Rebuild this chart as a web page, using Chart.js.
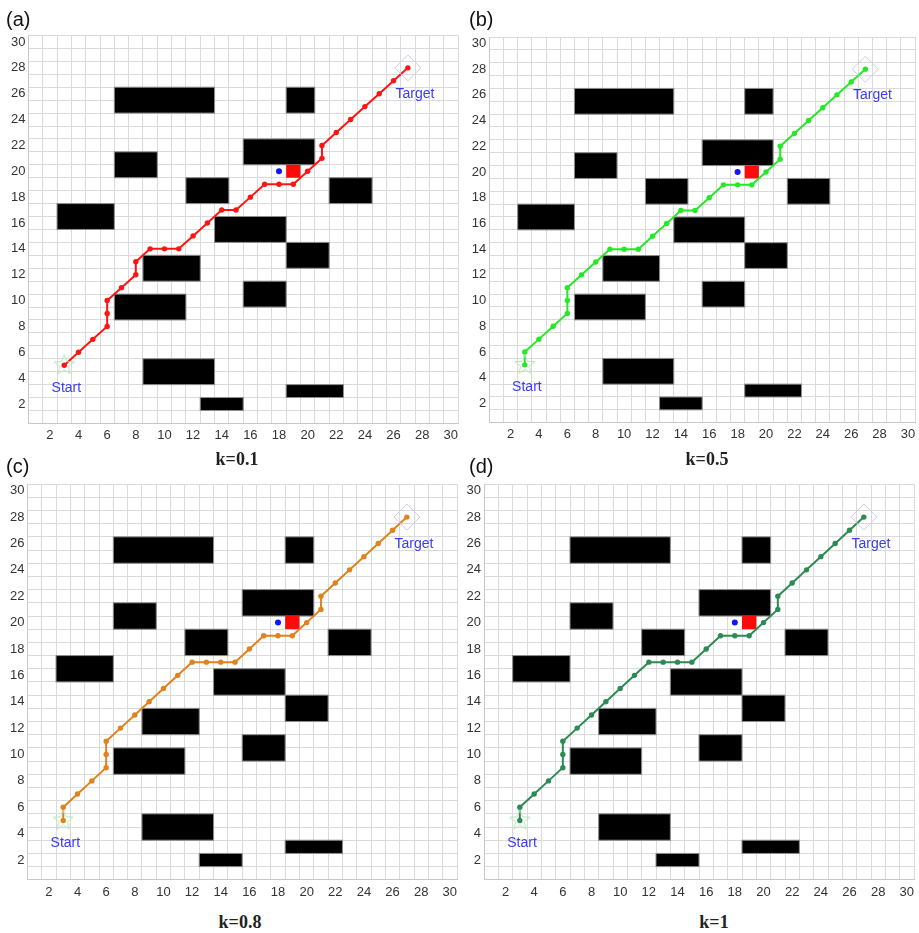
<!DOCTYPE html>
<html>
<head>
<meta charset="utf-8">
<script src="https://cdn.jsdelivr.net/npm/chart.js@4.4.1/dist/chart.umd.min.js"></script>
<style>
  html, body { margin: 0; padding: 0; background: #fff; }
  body { width: 919px; height: 933px; position: relative; overflow: hidden;
         font-family: "Liberation Sans", Arial, sans-serif; }
  canvas { position: absolute; }
  .tag { position: absolute; font-size: 20px; line-height: 22px; color: #111; }
  .cap { position: absolute; font-family: "Liberation Serif", "Times New Roman", serif;
         font-weight: bold; font-size: 18px; line-height: 20px; color: #222;
         transform: translateX(-50%); white-space: nowrap; }
</style>
</head>
<body>
<canvas id="pa" width="462" height="446" style="left:0;top:0"></canvas>
<canvas id="pb" width="459" height="446" style="left:460px;top:0"></canvas>
<canvas id="pc" width="462" height="440" style="left:0;top:462px"></canvas>
<canvas id="pd" width="459" height="440" style="left:460px;top:462px"></canvas>

<div class="tag" style="left:6px;top:8px">(a)</div>
<div class="tag" style="left:469px;top:8px">(b)</div>
<div class="tag" style="left:6px;top:455px">(c)</div>
<div class="tag" style="left:469px;top:455px">(d)</div>

<div class="cap" style="left:237px;top:449px">k=0.1</div>
<div class="cap" style="left:707px;top:449px">k=0.5</div>
<div class="cap" style="left:240px;top:912px">k=0.8</div>
<div class="cap" style="left:714px;top:912px">k=1</div>

<script>
// Grid map: 30 x 30 cells, cell centres at integer coordinates.
const gridMin = 0.5;
const gridMax = 30.5;
const tickLabels = [2, 4, 6, 8, 10, 12, 14, 16, 18, 20, 22, 24, 26, 28, 30];

// Obstacles as inclusive cell ranges: [xFrom, xTo, yFrom, yTo]
const obstacles = [
  [7, 13, 25, 26],
  [19, 20, 25, 26],
  [16, 20, 21, 22],
  [7, 9, 20, 21],
  [12, 14, 18, 19],
  [22, 24, 18, 19],
  [3, 6, 16, 17],
  [14, 18, 15, 16],
  [19, 21, 13, 14],
  [9, 12, 12, 13],
  [16, 18, 10, 11],
  [7, 11, 9, 10],
  [9, 13, 4, 5],
  [19, 22, 3, 3],
  [13, 15, 2, 2]
];

// Dynamic obstacle cell and the blue probe point
const dynamicCell = [19, 20];
const probePoint = [18, 20];

const startCell = [3, 5];
const targetCell = [27, 28];

// Planned paths for each weighting factor k
const pathA_x = [3, 4, 5, 6, 6, 6, 7, 8, 8, 9, 10, 11, 12, 13, 14, 15, 16, 17, 18, 19, 20, 21, 21, 22, 23, 24, 25, 26, 27];
const pathA_y = [5, 6, 7, 8, 9, 10, 11, 12, 13, 14, 14, 14, 15, 16, 17, 17, 18, 19, 19, 19, 20, 21, 22, 23, 24, 25, 26, 27, 28];

const pathB_x = [3, 3, 4, 5, 6, 6, 6, 7, 8, 9, 10, 11, 12, 13, 14, 15, 16, 17, 18, 19, 20, 21, 21, 22, 23, 24, 25, 26, 27];
const pathB_y = [5, 6, 7, 8, 9, 10, 11, 12, 13, 14, 14, 14, 15, 16, 17, 17, 18, 19, 19, 19, 20, 21, 22, 23, 24, 25, 26, 27, 28];

const pathC_x = [3, 3, 4, 5, 6, 6, 6, 7, 8, 9, 10, 11, 12, 13, 14, 15, 16, 17, 18, 19, 20, 21, 21, 22, 23, 24, 25, 26, 27];
const pathC_y = [5, 6, 7, 8, 9, 10, 11, 12, 13, 14, 15, 16, 17, 17, 17, 17, 18, 19, 19, 19, 20, 21, 22, 23, 24, 25, 26, 27, 28];

const pathD_x = [3, 3, 4, 5, 6, 6, 6, 7, 8, 9, 10, 11, 12, 13, 14, 15, 16, 17, 18, 19, 20, 21, 21, 22, 23, 24, 25, 26, 27];
const pathD_y = [5, 6, 7, 8, 9, 10, 11, 12, 13, 14, 15, 16, 17, 17, 17, 17, 18, 19, 19, 19, 20, 21, 22, 23, 24, 25, 26, 27, 28];

// Text anchors (data units) for the start / target captions
const markerText = [
  { text: 'Start', x: 3.15, y: 3.25 },
  { text: 'Target', x: 27.5, y: 25.95 }
];

const toPoints = (xs, ys) => xs.map((v, i) => ({ x: v, y: ys[i] }));

// Outlined five-point star used as the start marker
function makeStar() {
  const c = document.createElement('canvas');
  c.width = 24; c.height = 24;
  const g = c.getContext('2d');
  g.beginPath();
  for (let i = 0; i < 10; i++) {
    const r = i % 2 === 0 ? 10.5 : 4.5;
    const a = -Math.PI / 2 + i * Math.PI / 5;
    const px = 12 + r * Math.cos(a), py = 12 + r * Math.sin(a);
    if (i === 0) g.moveTo(px, py); else g.lineTo(px, py);
  }
  g.closePath();
  g.strokeStyle = '#b5e3b5';
  g.lineWidth = 1;
  g.stroke();
  return c;
}
const starImg = makeStar();

const halfSteps = [];
for (let v = gridMin; v <= gridMax + 1e-9; v += 0.5) halfSteps.push(v);

const mapPlugin = {
  id: 'mapCells',
  beforeDatasetsDraw(chart) {
    const { ctx, scales: { x, y } } = chart;
    ctx.save();
    obstacles.forEach(([x1, x2, y1, y2]) => {
      const l = x.getPixelForValue(x1 - 0.5), r = x.getPixelForValue(x2 + 0.5);
      const t = y.getPixelForValue(y2 + 0.5), b = y.getPixelForValue(y1 - 0.5);
      ctx.fillStyle = '#000';
      ctx.fillRect(l, t, r - l, b - t);
      ctx.strokeStyle = '#8c8c8c';
      ctx.lineWidth = 1;
      ctx.strokeRect(l, t, r - l, b - t);
    });
    const [cx, cy] = dynamicCell;
    const l = x.getPixelForValue(cx - 0.5), r = x.getPixelForValue(cx + 0.5);
    const t = y.getPixelForValue(cy + 0.5), b = y.getPixelForValue(cy - 0.5);
    ctx.fillStyle = '#ff0a0a';
    ctx.fillRect(l, t, r - l, b - t);
    ctx.restore();
  },
  afterDatasetsDraw(chart) {
    const { ctx, scales: { x, y } } = chart;
    ctx.save();
    ctx.font = '14px "Liberation Sans", Arial, sans-serif';
    ctx.fillStyle = '#3b3bf2';
    ctx.textAlign = 'center';
    ctx.textBaseline = 'middle';
    markerText.forEach(m => ctx.fillText(m.text, x.getPixelForValue(m.x), y.getPixelForValue(m.y)));
    ctx.restore();
  }
};

function axis(isX, size, pad) {
  return {
    type: 'linear',
    min: gridMin,
    max: gridMax,
    afterBuildTicks: s => { s.ticks = halfSteps.map(v => ({ value: v })); },
    afterFit: s => { if (isX) s.height = size; else s.width = size; },
    grid: {
      color: c => (c.tick && Math.abs(c.tick.value % 1) === 0.5) ? '#dadada' : 'rgba(0,0,0,0)',
      lineWidth: 1,
      drawTicks: false
    },
    border: { color: '#c8c8c8' },
    ticks: {
      autoSkip: false,
      maxRotation: 0,
      padding: pad,
      color: '#333',
      font: { size: 13, family: '"Liberation Sans", Arial, sans-serif' },
      callback: v => tickLabels.includes(v) ? String(v) : ''
    }
  };
}

function panel(id, xs, ys, color, geo) {
  new Chart(document.getElementById(id), {
    type: 'line',
    data: {
      datasets: [
        {
          data: toPoints([targetCell[0]], [targetCell[1]]),
          showLine: false, pointStyle: 'rectRot', pointRadius: 13,
          borderColor: '#c9c9f2', backgroundColor: 'rgba(0,0,0,0)', pointBorderWidth: 1
        },
        {
          data: toPoints([startCell[0]], [startCell[1]]),
          showLine: false, pointStyle: starImg, pointRadius: 10
        },
        {
          data: toPoints(xs, ys),
          borderColor: color, backgroundColor: color, borderWidth: 2,
          pointRadius: 2.7, pointBorderWidth: 0, pointBackgroundColor: color, tension: 0
        },
        {
          data: toPoints([probePoint[0]], [probePoint[1]]),
          showLine: false, pointRadius: 3, pointBorderWidth: 0,
          pointBackgroundColor: '#1414ff', borderColor: '#1414ff'
        }
      ]
    },
    options: {
      responsive: false,
      animation: false,
      devicePixelRatio: 1,
      layout: { autoPadding: false, padding: { top: geo.top, right: geo.right, left: 0, bottom: 0 } },
      plugins: { legend: { display: false }, tooltip: { enabled: false } },
      scales: { x: axis(true, geo.xh, geo.xpad), y: axis(false, geo.yw, 3) }
    },
    plugins: [mapPlugin]
  });
}

panel('pa', pathA_x, pathA_y, '#ff1414', { top: 35.5, right: 1.6, xh: 22.6, yw: 28.4, xpad: 4 });
panel('pb', pathB_x, pathB_y, '#27e827', { top: 37, right: 1, xh: 23.3, yw: 29.3, xpad: 4 });
panel('pc', pathC_x, pathC_y, '#e0821e', { top: 22.1, right: 1.7, xh: 22.2, yw: 27.4, xpad: 5 });
panel('pd', pathD_x, pathD_y, '#2e8a55', { top: 22.1, right: 1.2, xh: 22.2, yw: 24, xpad: 5 });
</script>
</body>
</html>
